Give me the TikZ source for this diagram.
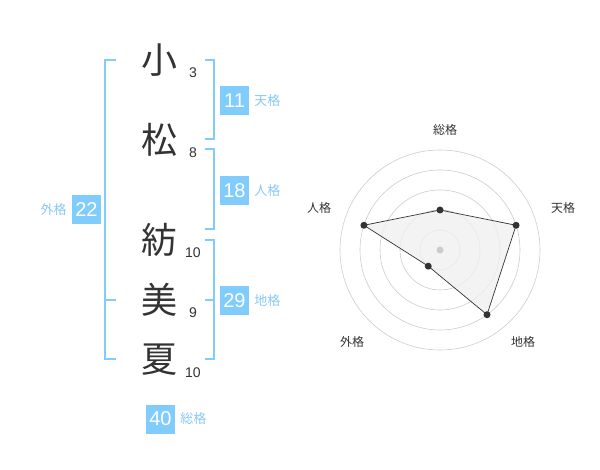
\documentclass[tikz,border=0pt]{standalone}
\usepackage{fontspec}
\setmainfont{Liberation Sans}
\newfontfamily\jpfont{Noto Sans CJK JP}
\usepackage{tikz}
\usetikzlibrary{calc}
\definecolor{kakublue}{HTML}{80CCFC}
\definecolor{kakutext}{HTML}{88C8F4}
\definecolor{inkgray}{HTML}{333333}
\definecolor{ringgray}{HTML}{CCCCCC}
\tikzset{
  kanji/.style={text=inkgray,inner sep=0pt,font=\jpfont\fontsize{36}{36}\selectfont},
  kakusu/.style={text=inkgray,inner sep=0pt,font=\fontsize{14}{14}\selectfont},
  kakubox/.style={fill=kakublue,text=white,inner sep=0pt,minimum width=29pt,minimum height=29pt,font=\fontsize{20}{20}\selectfont},
  kakuname/.style={text=kakutext,inner sep=0pt,font=\jpfont\fontsize{13}{13}\selectfont},
  axisname/.style={text=inkgray,inner sep=0pt,font=\jpfont\fontsize{12}{12}\selectfont},
  bracket/.style={draw=kakublue,line width=2pt}
}

\begin{document}
\begin{tikzpicture}[x=1pt,y=-1pt]
  \useasboundingbox (0,0) rectangle (600,470);

  % name and stroke counts
  \node[kanji] (k1) at (159,60) {小};
  \node[kanji] (k2) at (159,140) {松};
  \node[kanji] (k3) at (159,240) {紡};
  \node[kanji] (k4) at (159,300) {美};
  \node[kanji] (k5) at (159,360) {夏};
  \node[kakusu] (s1) at (193,73) {3};
  \node[kakusu] (s2) at (193,153) {8};
  \node[kakusu] (s3) at (193,253) {10};
  \node[kakusu] (s4) at (193,313) {9};
  \node[kakusu] (s5) at (193,373) {10};

  % brackets
  \coordinate (gt) at (105,60);
  \coordinate (gb) at (105,359);
  \draw[bracket] (gt) ++(11,0) -- (gt) -- (gb) -- ++(11,0);
  \draw[bracket] (105,300) -- ++(11,0);
  \coordinate (tt) at (214,60);
  \coordinate (tb) at (214,139);
  \draw[bracket] (tt) ++(-9,0) -- (tt) -- (tb) -- ++(-9,0);
  \coordinate (jt) at (214,149);
  \coordinate (jb) at (214,229);
  \draw[bracket] (jt) ++(-9,0) -- (jt) -- (jb) -- ++(-9,0);
  \coordinate (ct) at (214,240);
  \coordinate (cb) at (214,359);
  \draw[bracket] (ct) ++(-9,0) -- (ct) -- (cb) -- ++(-9,0);
  \draw[bracket] (214,300) -- ++(-9,0);

  % totals
  \node[kakubox] (ten) at (234.5,100.5) {11};
  \node[kakuname,anchor=west] (tenl) at ([xshift=5pt]ten.east) {天格};
  \node[kakubox] (jin) at (234.5,190.5) {18};
  \node[kakuname,anchor=west] (jinl) at ([xshift=5pt]jin.east) {人格};
  \node[kakubox] (chi) at (234.5,300.5) {29};
  \node[kakuname,anchor=west] (chil) at ([xshift=5pt]chi.east) {地格};
  \node[kakubox] (gai) at (86.5,210) {22};
  \node[kakuname,anchor=east] (gail) at ([xshift=-5pt]gai.west) {外格};
  \node[kakubox] (sou) at (160.5,419) {40};
  \node[kakuname,anchor=west] (soul) at ([xshift=5pt]sou.east) {総格};

  % radar chart
  \coordinate (c) at (440,250);
  \foreach \r in {20,40,60,80,100}
    \draw[ringgray,line width=0.6pt] (c) circle [radius=\r];

  \coordinate (pSou) at ($(c)+(-90:40)$);
  \coordinate (pTen) at ($(c)+(-18:80)$);
  \coordinate (pChi) at ($(c)+(54:80)$);
  \coordinate (pGai) at ($(c)+(126:20)$);
  \coordinate (pJin) at ($(c)+(198:80)$);

  \draw[fill=black!6,fill opacity=0.8,draw=inkgray,line width=0.7pt]
    (pSou) -- (pTen) -- (pChi) -- (pGai) -- (pJin) -- cycle;
  \fill[ringgray] (c) circle [radius=3.5];
  \foreach \p in {pSou,pTen,pChi,pGai,pJin}
    \fill[inkgray] (\p) circle [radius=3.5];

  \node[axisname] (aSou) at (445,130) {総格};
  \node[axisname] (aTen) at (563,208) {天格};
  \node[axisname] (aChi) at (523,342) {地格};
  \node[axisname] (aGai) at (352,342) {外格};
  \node[axisname] (aJin) at (319,208) {人格};
\end{tikzpicture}
\end{document}
